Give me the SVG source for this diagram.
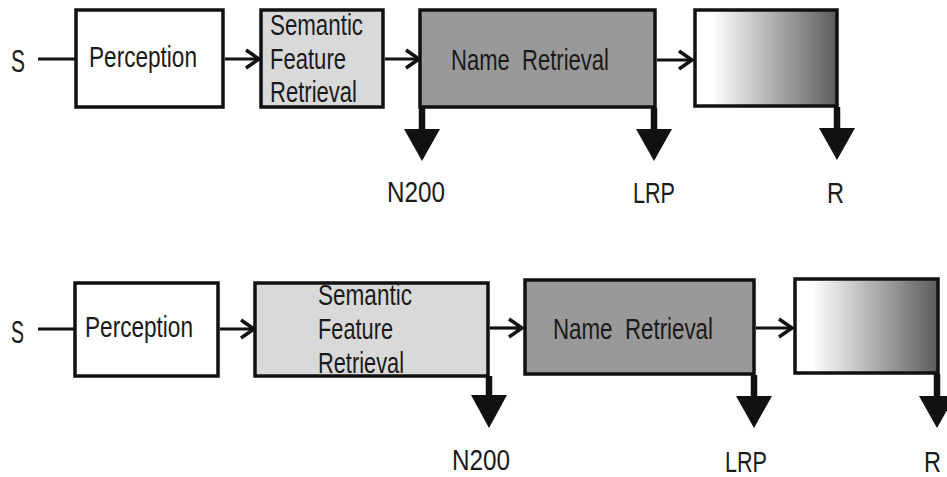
<svg xmlns="http://www.w3.org/2000/svg" width="947" height="477" viewBox="0 0 947 477">
<style>
.box{stroke:#111;stroke-width:3.5}
.white{fill:#fff}
.light{fill:#d9d9d9}
.mid{fill:#999}
.grad{fill:url(#g)}
.lbl{font-family:"Liberation Sans",Arial,sans-serif;font-size:29px;fill:#1a1a1a}
.big{font-size:32px}
.ln{stroke:#111;stroke-width:3.2;fill:none}
.stem{stroke:#111;stroke-width:6.5;fill:none}
.tri{fill:#111}
</style>
<defs>
<linearGradient id="g" x1="0" y1="0" x2="1" y2="0">
<stop offset="0" stop-color="#fff"/>
<stop offset="0.12" stop-color="#fff"/>
<stop offset="1" stop-color="#5c5c5c"/>
</linearGradient>
<marker id="chev" markerUnits="userSpaceOnUse" viewBox="-16 -12 18 24" markerWidth="18" markerHeight="24" refX="0" refY="0" orient="auto">
<path d="M-13,-9 L0,0 L-13,9" fill="none" stroke="#111" stroke-width="3.5"/>
</marker>
</defs>

<g id="top-row">
<g id="s1"><text class="lbl big" x="11" y="72" textLength="14" lengthAdjust="spacingAndGlyphs">S</text></g>
<g id="perception1"><rect class="box white" x="76" y="10" width="147" height="97"/><text class="lbl" x="89" y="67" textLength="108" lengthAdjust="spacingAndGlyphs">Perception</text></g>
<g id="semantic1"><rect class="box light" x="261" y="10" width="122" height="97"/>
<text class="lbl" x="270" y="35" textLength="93" lengthAdjust="spacingAndGlyphs">Semantic</text>
<text class="lbl" x="270" y="69" textLength="76" lengthAdjust="spacingAndGlyphs">Feature</text>
<text class="lbl" x="270" y="102" textLength="87" lengthAdjust="spacingAndGlyphs">Retrieval</text></g>
<g id="name1"><rect class="box mid" x="420" y="10" width="235" height="97"/><text class="lbl" x="451" y="70" textLength="158" lengthAdjust="spacingAndGlyphs" xml:space="preserve">Name  Retrieval</text></g>
<g id="response1"><rect class="box grad" x="695" y="10" width="142" height="96"/></g>
<g id="n200-1"><text class="lbl" x="387" y="202" textLength="58" lengthAdjust="spacingAndGlyphs">N200</text></g>
<g id="lrp1"><text class="lbl" x="633" y="203" textLength="42" lengthAdjust="spacingAndGlyphs">LRP</text></g>
<g id="r1"><text class="lbl" x="827" y="203" textLength="17" lengthAdjust="spacingAndGlyphs">R</text></g>
</g>

<g id="bottom-row">
<g id="s2"><text class="lbl big" x="11" y="343" textLength="13" lengthAdjust="spacingAndGlyphs">S</text></g>
<g id="perception2"><rect class="box white" x="75" y="283" width="143" height="93"/><text class="lbl" x="85" y="337" textLength="108" lengthAdjust="spacingAndGlyphs">Perception</text></g>
<g id="semantic2"><rect class="box light" x="255" y="283" width="233" height="93"/>
<text class="lbl" x="318" y="305" textLength="94" lengthAdjust="spacingAndGlyphs">Semantic</text>
<text class="lbl" x="318" y="339" textLength="75" lengthAdjust="spacingAndGlyphs">Feature</text>
<text class="lbl" x="318" y="373" textLength="86" lengthAdjust="spacingAndGlyphs">Retrieval</text></g>
<g id="name2"><rect class="box mid" x="525" y="280" width="229" height="94"/><text class="lbl" x="553" y="339" textLength="160" lengthAdjust="spacingAndGlyphs" xml:space="preserve">Name  Retrieval</text></g>
<g id="response2"><rect class="box grad" x="795" y="279" width="143" height="94"/></g>
<g id="n200-2"><text class="lbl" x="452" y="470" textLength="58" lengthAdjust="spacingAndGlyphs">N200</text></g>
<g id="lrp2"><text class="lbl" x="725" y="472" textLength="42" lengthAdjust="spacingAndGlyphs">LRP</text></g>
<g id="r2"><text class="lbl" x="924" y="472" textLength="17" lengthAdjust="spacingAndGlyphs">R</text></g>
</g>

<g id="connectors">
<line class="ln" x1="38" y1="59" x2="76" y2="59"/>
<line class="ln" x1="225" y1="59" x2="259" y2="59" marker-end="url(#chev)"/>
<line class="ln" x1="385" y1="59" x2="419" y2="59" marker-end="url(#chev)"/>
<line class="ln" x1="657" y1="60" x2="692" y2="60" marker-end="url(#chev)"/>
<line class="stem" x1="422" y1="108" x2="422" y2="131"/>
<polygon class="tri" points="404,129 440,129 422,161"/>
<line class="stem" x1="654" y1="108" x2="654" y2="131"/>
<polygon class="tri" points="636,129 672,129 654,161"/>
<line class="stem" x1="837" y1="107" x2="837" y2="130"/>
<polygon class="tri" points="819,128 855,128 837,160"/>

<line class="ln" x1="38" y1="329" x2="75" y2="329"/>
<line class="ln" x1="220" y1="329" x2="254" y2="329" marker-end="url(#chev)"/>
<line class="ln" x1="490" y1="328" x2="522" y2="328" marker-end="url(#chev)"/>
<line class="ln" x1="756" y1="328" x2="792" y2="328" marker-end="url(#chev)"/>
<line class="stem" x1="489" y1="376" x2="489" y2="397"/>
<polygon class="tri" points="471,395 507,395 489,428"/>
<line class="stem" x1="754" y1="375" x2="754" y2="398"/>
<polygon class="tri" points="736,396 772,396 754,428"/>
<line class="stem" x1="937" y1="374" x2="937" y2="398"/>
<polygon class="tri" points="919,396 955,396 937,428"/>
</g>
</svg>
